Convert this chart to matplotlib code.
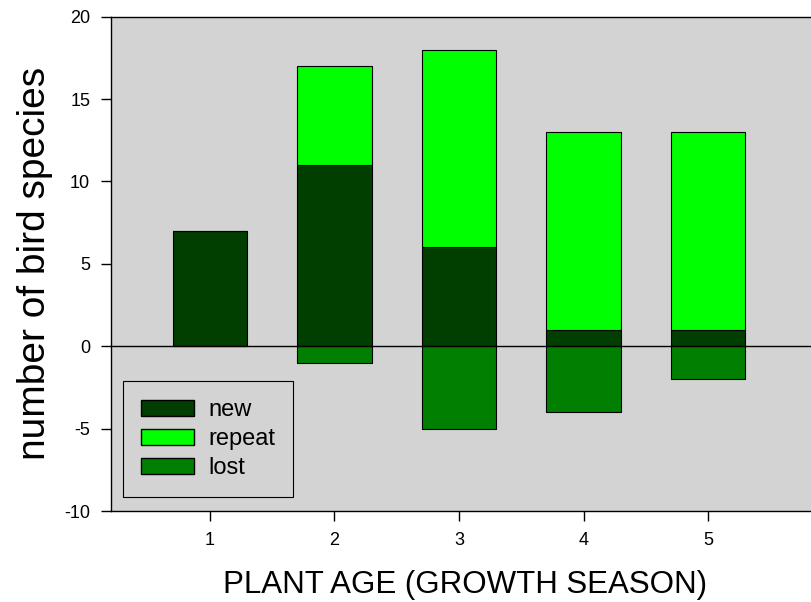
import matplotlib
matplotlib.use("Agg")
import matplotlib.pyplot as plt
from matplotlib.patches import Patch

plt.rcParams['font.family'] = ['Liberation Sans', 'DejaVu Sans']
plt.rcParams['axes.unicode_minus'] = False

ages = [1, 2, 3, 4, 5]
new = [7, 11, 6, 1, 1]
repeat = [0, 6, 12, 12, 12]
lost = [0, -1, -5, -4, -2]

c_new = '#003f00'
c_repeat = '#00ff00'
c_lost = '#007f00'

fig = plt.figure(figsize=(8.12, 6.02), dpi=100)
ax = fig.add_axes([111 / 812, 91 / 602, (812 - 111) / 812, (511 - 16.7) / 602])
ax.set_facecolor('#d3d3d3')

w = 0.6
ax.bar(ages, new, width=w, color=c_new, edgecolor='black', linewidth=0.8, zorder=2)
ax.bar(ages, repeat, width=w, bottom=new, color=c_repeat, edgecolor='black', linewidth=0.8, zorder=2)
ax.bar(ages, lost, width=w, color=c_lost, edgecolor='black', linewidth=0.8, zorder=2)
ax.axhline(0, color='black', linewidth=1.0, zorder=3)

ax.set_xlim(0.205, 5.835)
ax.set_ylim(-10, 20)
ax.set_xticks(ages)
ax.set_yticks([-10, -5, 0, 5, 10, 15, 20])
ax.tick_params(axis='both', direction='out', length=7, width=1, labelsize=13, pad=8)
ax.spines['right'].set_visible(False)
for s in ['left', 'top', 'bottom']:
    ax.spines[s].set_linewidth(1.0)

ax.set_ylabel('number of bird species', fontsize=28)
ax.yaxis.set_label_coords(-(111 - 35) / 701, 0.5)
ax.set_xlabel('PLANT AGE (GROWTH SEASON)', fontsize=22.5)
ax.xaxis.set_label_coords((465 - 111) / 701, -(585 - 511) / 494.3)
ax.xaxis.label.set_va('center')
ax.yaxis.label.set_va('center')

handles = [Patch(facecolor=c_new, edgecolor='black', label='new'),
           Patch(facecolor=c_repeat, edgecolor='black', label='repeat'),
           Patch(facecolor=c_lost, edgecolor='black', label='lost')]
leg = ax.legend(handles=handles, loc='lower left', bbox_to_anchor=(12 / 701, 14 / 494.3),
                fontsize=17, frameon=True, fancybox=False, edgecolor='black',
                facecolor='#d3d3d3', framealpha=1, handlelength=2.25, handleheight=0.65,
                borderpad=0.75, labelspacing=0.3, handletextpad=0.6, borderaxespad=0)
leg.get_frame().set_linewidth(0.8)

fig.savefig('out.png', dpi=100)
